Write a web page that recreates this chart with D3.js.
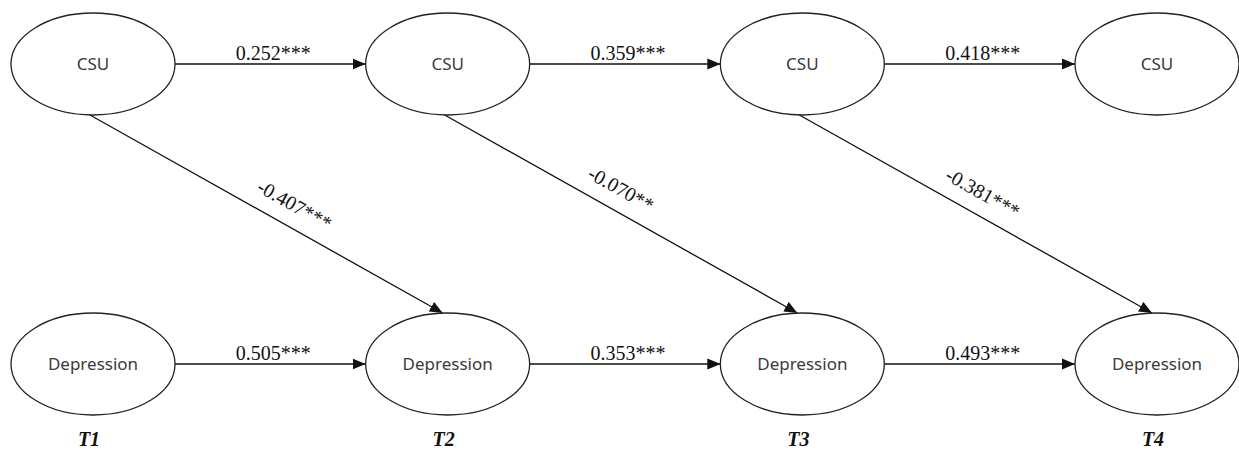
<!DOCTYPE html>
<html>
<head>
<meta charset="utf-8">
<script src="https://cdn.jsdelivr.net/npm/d3@7"></script>
<style>
  body { margin: 0; background: #fff; }
  svg { display: block; }
</style>
</head>
<body>
<svg id="chart" width="1239" height="453"></svg>
<script>
// waves and constructs
var times = ["T1", "T2", "T3", "T4"];
var constructs = ["CSU", "Depression"];

// autoregressive paths (same construct, next wave)
var csuPaths = ["0.252***", "0.359***", "0.418***"];
var depPaths = ["0.505***", "0.353***", "0.493***"];
// cross-lagged paths CSU(t) -> Depression(t+1)
var crossPaths = ["-0.407***", "-0.070**", "-0.381***"];
// where along each diagonal its label sits
var crossLabelAt = [0.55, 0.47, 0.49];

var svg = d3.select("#chart");
var rx = 82, ry = 51;

var x = d3.scalePoint().domain(times).range([93, 1157]);
var y = d3.scalePoint().domain(constructs).range([64, 364]);

svg.append("defs").append("marker")
    .attr("id", "arrow")
    .attr("viewBox", "0 -6 13 12")
    .attr("refX", 13)
    .attr("refY", 0)
    .attr("markerUnits", "userSpaceOnUse")
    .attr("markerWidth", 13)
    .attr("markerHeight", 12)
    .attr("orient", "auto")
  .append("path")
    .attr("d", "M0,-5.5L13,0L0,5.5Z")
    .attr("fill", "#111");

// horizontal paths
var horiz = [];
csuPaths.forEach(function(v, i) { horiz.push({from: times[i], to: times[i + 1], c: "CSU", label: v}); });
depPaths.forEach(function(v, i) { horiz.push({from: times[i], to: times[i + 1], c: "Depression", label: v}); });

svg.selectAll("line.h").data(horiz).enter().append("line")
    .attr("class", "h")
    .attr("x1", function(d) { return x(d.from) + rx; })
    .attr("x2", function(d) { return x(d.to) - rx; })
    .attr("y1", function(d) { return y(d.c); })
    .attr("y2", function(d) { return y(d.c); })
    .attr("stroke", "#111")
    .attr("stroke-width", 1.3)
    .attr("marker-end", "url(#arrow)");

svg.selectAll("text.h").data(horiz).enter().append("text")
    .attr("class", "h")
    .attr("x", function(d) { return (x(d.from) + x(d.to)) / 2 + 3; })
    .attr("y", function(d) { return y(d.c) - 4; })
    .attr("text-anchor", "middle")
    .style("font-family", "'Liberation Serif', 'Times New Roman', serif")
    .style("font-size", "20px")
    .style("fill", "#111")
    .text(function(d) { return d.label; });

// cross-lagged diagonals
var cross = crossPaths.map(function(v, i) {
  var x1 = x(times[i]) - 3, y1 = y("CSU") + ry;
  var x2 = x(times[i + 1]) - 5, y2 = y("Depression") - ry;
  return {x1: x1, y1: y1, x2: x2, y2: y2, label: v, t: crossLabelAt[i]};
});

svg.selectAll("line.d").data(cross).enter().append("line")
    .attr("class", "d")
    .attr("x1", function(d) { return d.x1; })
    .attr("y1", function(d) { return d.y1; })
    .attr("x2", function(d) { return d.x2; })
    .attr("y2", function(d) { return d.y2; })
    .attr("stroke", "#111")
    .attr("stroke-width", 1.3)
    .attr("marker-end", "url(#arrow)");

svg.selectAll("text.d").data(cross).enter().append("text")
    .attr("class", "d")
    .attr("transform", function(d) {
      var ang = Math.atan2(d.y2 - d.y1, d.x2 - d.x1);
      var px = d.x1 + (d.x2 - d.x1) * d.t + Math.sin(ang) * 22;
      var py = d.y1 + (d.y2 - d.y1) * d.t - Math.cos(ang) * 22;
      return "translate(" + px + "," + py + ") rotate(" + (ang * 180 / Math.PI) + ")";
    })
    .attr("text-anchor", "middle")
    .attr("dy", ".35em")
    .style("font-family", "'Liberation Serif', 'Times New Roman', serif")
    .style("font-size", "20px")
    .style("fill", "#111")
    .text(function(d) { return d.label; });

// latent variable nodes
var nodes = [];
constructs.forEach(function(c) { times.forEach(function(t) { nodes.push({t: t, c: c}); }); });

var node = svg.selectAll("g.node").data(nodes).enter().append("g")
    .attr("class", "node")
    .attr("transform", function(d) { return "translate(" + x(d.t) + "," + y(d.c) + ")"; });

node.append("ellipse")
    .attr("rx", rx)
    .attr("ry", ry)
    .attr("fill", "#fff")
    .attr("stroke", "#222")
    .attr("stroke-width", 1.3);

node.append("text")
    .attr("text-anchor", "middle")
    .attr("dy", ".35em")
    .style("font-family", "'Noto Sans', sans-serif")
    .style("font-size", "17px")
    .style("fill", "#3a3a3a")
    .text(function(d) { return d.c; });

// wave labels
svg.selectAll("text.wave").data(times).enter().append("text")
    .attr("class", "wave")
    .attr("x", function(d) { return x(d) - 4; })
    .attr("y", 446)
    .attr("text-anchor", "middle")
    .style("font-family", "'Liberation Serif', 'Times New Roman', serif")
    .style("font-size", "20px")
    .style("font-weight", "bold")
    .style("font-style", "italic")
    .style("fill", "#111")
    .text(function(d) { return d; });
</script>
</body>
</html>
